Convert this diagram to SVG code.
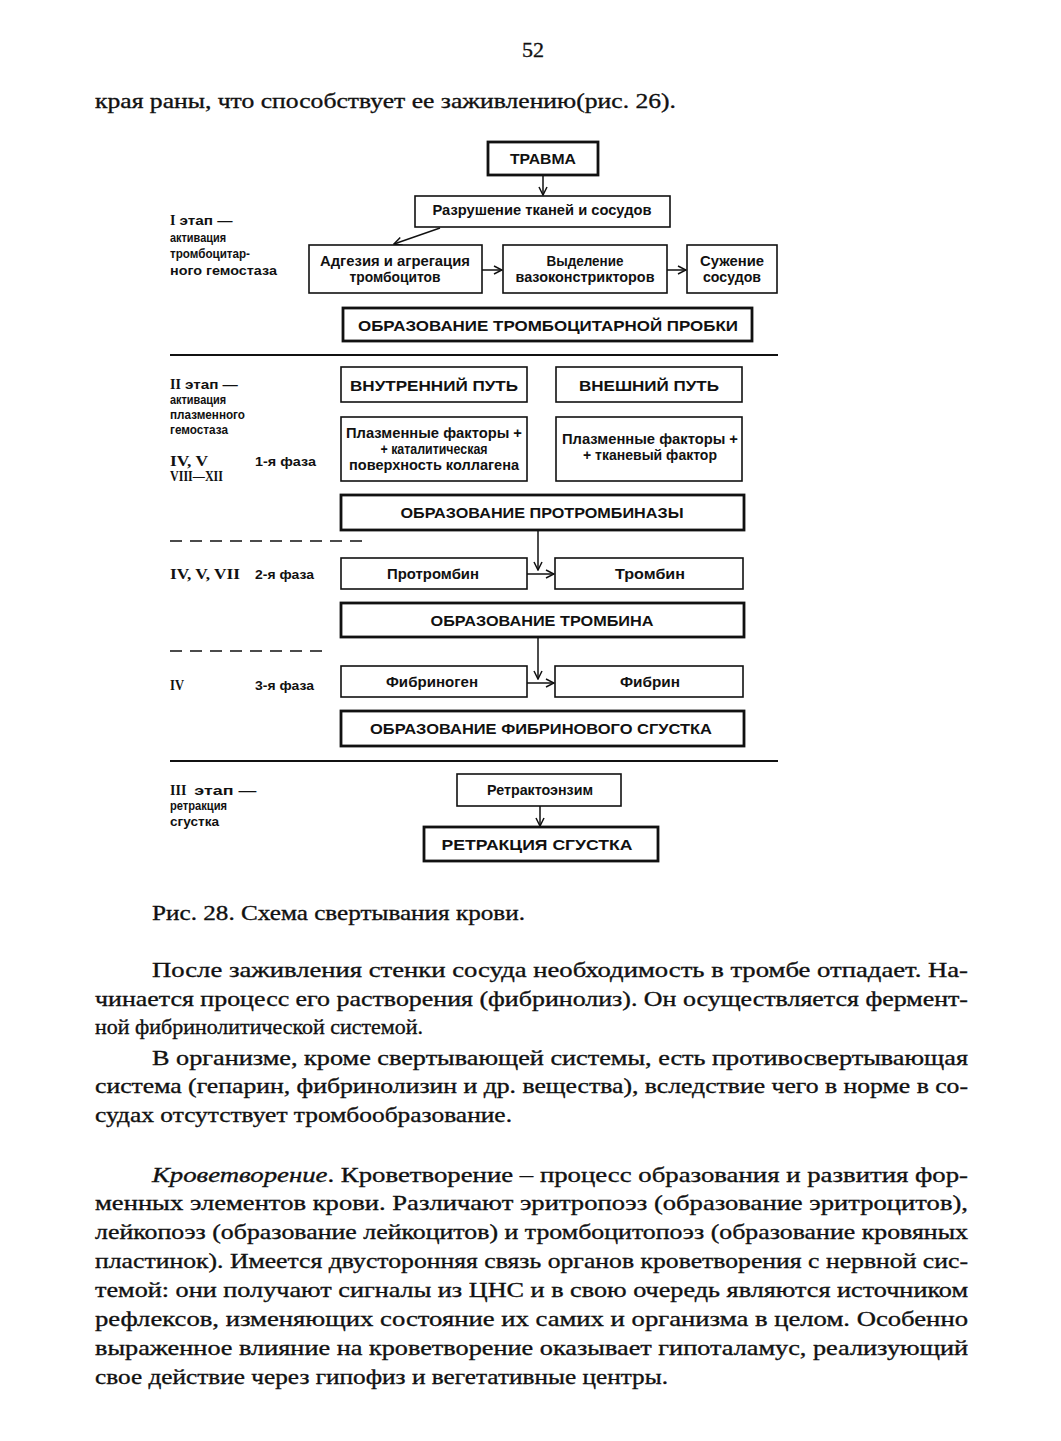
<svg xmlns="http://www.w3.org/2000/svg" width="1061" height="1441" viewBox="0 0 1061 1441">
<style>
.bg{fill:#fff}
.thin{fill:#fff;stroke:#111;stroke-width:1.6}
.thick{fill:#fff;stroke:#111;stroke-width:2.8}
.lbl{font-family:"Liberation Sans",Arial,sans-serif;font-weight:bold;fill:#111;text-anchor:middle}
.side{font-family:"Liberation Sans",Arial,sans-serif;font-weight:bold;font-size:13px;fill:#111}
.rom{font-family:"Liberation Serif","Times New Roman",serif;font-weight:bold;font-size:14px;fill:#111}
.body{font-family:"Liberation Serif","Times New Roman",serif;font-size:22px;fill:#111;stroke:#111;stroke-width:0.35}
.conn{stroke:#111;stroke-width:1.5;fill:none}
.sep{stroke:#111;stroke-width:2;fill:none}
.dash{stroke:#111;stroke-width:1.5;stroke-dasharray:12 8;fill:none}
</style>
<defs>
<marker id="ah" markerWidth="10" markerHeight="10" refX="9" refY="5" orient="auto" markerUnits="userSpaceOnUse">
<path d="M1,1 L9,5 L1,9" fill="none" stroke="#111" stroke-width="1.5"/>
</marker>
</defs>
<rect class="bg" x="0" y="0" width="1061" height="1441"/>

<text class="body" x="533" y="57" font-size="15" text-anchor="middle">52</text>
<text class="body" x="95" y="108" textLength="581" lengthAdjust="spacingAndGlyphs">края раны, что способствует ее заживлению(рис. 26).</text>

<g id="connectors">
<line class="conn" x1="543" y1="175" x2="543" y2="195" marker-end="url(#ah)"/>
<line class="conn" x1="440" y1="228" x2="394" y2="244" marker-end="url(#ah)"/>
<line class="conn" x1="482" y1="270" x2="502" y2="270" marker-end="url(#ah)"/>
<line class="conn" x1="667" y1="270" x2="686" y2="270" marker-end="url(#ah)"/>
<line class="conn" x1="538" y1="530" x2="538" y2="570" marker-end="url(#ah)"/>
<line class="conn" x1="527" y1="574" x2="554" y2="574" marker-end="url(#ah)"/>
<line class="conn" x1="538" y1="637" x2="538" y2="679" marker-end="url(#ah)"/>
<line class="conn" x1="527" y1="683" x2="554" y2="683" marker-end="url(#ah)"/>
<line class="conn" x1="540" y1="806" x2="540" y2="826" marker-end="url(#ah)"/>
<line class="sep" x1="170" y1="355" x2="778" y2="355"/>
<line class="sep" x1="170" y1="761" x2="778" y2="761"/>
<line class="dash" x1="170" y1="541" x2="362" y2="541"/>
<line class="dash" x1="170" y1="651" x2="326" y2="651"/>
</g>

<g id="stage1-label">
<text class="side" y="225"><tspan class="rom" x="170">I</tspan><tspan dx="4" textLength="53" lengthAdjust="spacingAndGlyphs">этап —</tspan></text>
<text class="side" x="170" y="242" textLength="56" lengthAdjust="spacingAndGlyphs">активация</text>
<text class="side" x="170" y="258" textLength="80" lengthAdjust="spacingAndGlyphs">тромбоцитар-</text>
<text class="side" x="170" y="275" textLength="107" lengthAdjust="spacingAndGlyphs">ного гемостаза</text>
</g>

<g id="n-travma"><rect class="thick" x="488" y="142" width="110" height="33"/>
<text class="lbl" x="543" y="164" font-size="15" textLength="66" lengthAdjust="spacingAndGlyphs">ТРАВМА</text></g>

<g id="n-razrushenie"><rect class="thin" x="415" y="196" width="255" height="31"/>
<text class="lbl" x="542" y="215" font-size="14" textLength="219" lengthAdjust="spacingAndGlyphs">Разрушение тканей и сосудов</text></g>

<g id="n-adgeziya"><rect class="thin" x="309" y="245" width="173" height="48"/>
<text class="lbl" x="395" y="266" font-size="14" textLength="150" lengthAdjust="spacingAndGlyphs">Адгезия и агрегация</text>
<text class="lbl" x="395" y="282" font-size="14" textLength="91" lengthAdjust="spacingAndGlyphs">тромбоцитов</text></g>

<g id="n-vydelenie"><rect class="thin" x="503" y="245" width="164" height="48"/>
<text class="lbl" x="585" y="266" font-size="14" textLength="77" lengthAdjust="spacingAndGlyphs">Выделение</text>
<text class="lbl" x="585" y="282" font-size="14" textLength="139" lengthAdjust="spacingAndGlyphs">вазоконстрикторов</text></g>

<g id="n-suzhenie"><rect class="thin" x="687" y="245" width="90" height="48"/>
<text class="lbl" x="732" y="266" font-size="14" textLength="64" lengthAdjust="spacingAndGlyphs">Сужение</text>
<text class="lbl" x="732" y="282" font-size="14" textLength="58" lengthAdjust="spacingAndGlyphs">сосудов</text></g>

<g id="n-probka"><rect class="thick" x="343" y="308" width="409" height="33"/>
<text class="lbl" x="548" y="331" font-size="15" textLength="380" lengthAdjust="spacingAndGlyphs">ОБРАЗОВАНИЕ ТРОМБОЦИТАРНОЙ ПРОБКИ</text></g>

<g id="stage2-label">
<text class="side" y="389"><tspan class="rom" x="170">II</tspan><tspan dx="4" textLength="53" lengthAdjust="spacingAndGlyphs">этап —</tspan></text>
<text class="side" x="170" y="404" textLength="56" lengthAdjust="spacingAndGlyphs">активация</text>
<text class="side" x="170" y="419" textLength="75" lengthAdjust="spacingAndGlyphs">плазменного</text>
<text class="side" x="170" y="434" textLength="58" lengthAdjust="spacingAndGlyphs">гемостаза</text>
<text class="rom" x="170" y="466" textLength="38" lengthAdjust="spacingAndGlyphs">IV, V</text>
<text class="side" x="255" y="466" textLength="61" lengthAdjust="spacingAndGlyphs">1-я фаза</text>
<text class="rom" x="170" y="481" textLength="53" lengthAdjust="spacingAndGlyphs">VIII—XII</text>
<text class="rom" x="170" y="579" textLength="70" lengthAdjust="spacingAndGlyphs">IV, V, VII</text>
<text class="side" x="255" y="579" textLength="59" lengthAdjust="spacingAndGlyphs">2-я фаза</text>
<text class="rom" x="170" y="690" textLength="14" lengthAdjust="spacingAndGlyphs">IV</text>
<text class="side" x="255" y="690" textLength="59" lengthAdjust="spacingAndGlyphs">3-я фаза</text>
</g>

<g id="n-vnutr"><rect class="thin" x="341" y="367" width="186" height="35"/>
<text class="lbl" x="434" y="391" font-size="15" textLength="168" lengthAdjust="spacingAndGlyphs">ВНУТРЕННИЙ ПУТЬ</text></g>

<g id="n-vnesh"><rect class="thin" x="556" y="367" width="186" height="35"/>
<text class="lbl" x="649" y="391" font-size="15" textLength="140" lengthAdjust="spacingAndGlyphs">ВНЕШНИЙ ПУТЬ</text></g>

<g id="n-plazm1"><rect class="thin" x="341" y="417" width="186" height="64"/>
<text class="lbl" x="434" y="438" font-size="14" textLength="176" lengthAdjust="spacingAndGlyphs">Плазменные факторы +</text>
<text class="lbl" x="434" y="454" font-size="14" textLength="107" lengthAdjust="spacingAndGlyphs">+ каталитическая</text>
<text class="lbl" x="434" y="470" font-size="14" textLength="170" lengthAdjust="spacingAndGlyphs">поверхность коллагена</text></g>

<g id="n-plazm2"><rect class="thin" x="556" y="417" width="186" height="64"/>
<text class="lbl" x="650" y="444" font-size="14" textLength="176" lengthAdjust="spacingAndGlyphs">Плазменные факторы +</text>
<text class="lbl" x="650" y="460" font-size="14" textLength="134" lengthAdjust="spacingAndGlyphs">+ тканевый фактор</text></g>

<g id="n-protrombinaza"><rect class="thick" x="341" y="495" width="403" height="35"/>
<text class="lbl" x="542" y="518" font-size="14" textLength="283" lengthAdjust="spacingAndGlyphs">ОБРАЗОВАНИЕ ПРОТРОМБИНАЗЫ</text></g>

<g id="n-protrombin"><rect class="thin" x="341" y="558" width="186" height="31"/>
<text class="lbl" x="433" y="579" font-size="14" textLength="92" lengthAdjust="spacingAndGlyphs">Протромбин</text></g>

<g id="n-trombin"><rect class="thin" x="555" y="558" width="188" height="31"/>
<text class="lbl" x="650" y="579" font-size="14" textLength="70" lengthAdjust="spacingAndGlyphs">Тромбин</text></g>

<g id="n-obr-trombina"><rect class="thick" x="341" y="603" width="403" height="34"/>
<text class="lbl" x="542" y="626" font-size="14" textLength="223" lengthAdjust="spacingAndGlyphs">ОБРАЗОВАНИЕ ТРОМБИНА</text></g>

<g id="n-fibrinogen"><rect class="thin" x="341" y="666" width="186" height="31"/>
<text class="lbl" x="432" y="687" font-size="14" textLength="92" lengthAdjust="spacingAndGlyphs">Фибриноген</text></g>

<g id="n-fibrin"><rect class="thin" x="555" y="666" width="188" height="31"/>
<text class="lbl" x="650" y="687" font-size="14" textLength="60" lengthAdjust="spacingAndGlyphs">Фибрин</text></g>

<g id="n-sgustok"><rect class="thick" x="341" y="711" width="403" height="35"/>
<text class="lbl" x="541" y="734" font-size="14" textLength="342" lengthAdjust="spacingAndGlyphs">ОБРАЗОВАНИЕ ФИБРИНОВОГО СГУСТКА</text></g>

<g id="stage3-label">
<text class="side" y="795"><tspan class="rom" x="170">III</tspan><tspan dx="8" textLength="62" lengthAdjust="spacingAndGlyphs">этап —</tspan></text>
<text class="side" x="170" y="810" textLength="57" lengthAdjust="spacingAndGlyphs">ретракция</text>
<text class="side" x="170" y="826" textLength="49" lengthAdjust="spacingAndGlyphs">сгустка</text>
</g>

<g id="n-retraktoenzim"><rect class="thin" x="457" y="774" width="164" height="32"/>
<text class="lbl" x="540" y="795" font-size="14" textLength="106" lengthAdjust="spacingAndGlyphs">Ретрактоэнзим</text></g>

<g id="n-retrakciya"><rect class="thick" x="424" y="827" width="234" height="34"/>
<text class="lbl" x="537" y="850" font-size="15" textLength="191" lengthAdjust="spacingAndGlyphs">РЕТРАКЦИЯ СГУСТКА</text></g>

<text class="body" x="152" y="920" textLength="373" lengthAdjust="spacingAndGlyphs">Рис. 28. Схема свертывания крови.</text>

<text class="body" x="152" y="977" textLength="816" lengthAdjust="spacingAndGlyphs">После заживления стенки сосуда необходимость в тромбе отпадает. На-</text>
<text class="body" x="95" y="1006" textLength="873" lengthAdjust="spacingAndGlyphs">чинается процесс его растворения (фибринолиз). Он осуществляется фермент-</text>
<text class="body" x="95" y="1034" textLength="328" lengthAdjust="spacingAndGlyphs">ной фибринолитической системой.</text>
<text class="body" x="152" y="1065" textLength="816" lengthAdjust="spacingAndGlyphs">В организме, кроме свертывающей системы, есть противосвертывающая</text>
<text class="body" x="95" y="1093" textLength="873" lengthAdjust="spacingAndGlyphs">система (гепарин, фибринолизин и др. вещества), вследствие чего в норме в со-</text>
<text class="body" x="95" y="1122" textLength="417" lengthAdjust="spacingAndGlyphs">судах отсутствует тромбообразование.</text>

<text class="body" x="152" y="1182" textLength="816" lengthAdjust="spacingAndGlyphs"><tspan font-style="italic">Кроветворение</tspan>. Кроветворение – процесс образования и развития фор-</text>
<text class="body" x="95" y="1210" textLength="873" lengthAdjust="spacingAndGlyphs">менных элементов крови. Различают эритропоэз (образование эритроцитов),</text>
<text class="body" x="95" y="1239" textLength="873" lengthAdjust="spacingAndGlyphs">лейкопоэз (образование лейкоцитов) и тромбоцитопоэз (образование кровяных</text>
<text class="body" x="95" y="1268" textLength="873" lengthAdjust="spacingAndGlyphs">пластинок). Имеется двусторонняя связь органов кроветворения с нервной сис-</text>
<text class="body" x="95" y="1297" textLength="873" lengthAdjust="spacingAndGlyphs">темой: они получают сигналы из ЦНС и в свою очередь являются источником</text>
<text class="body" x="95" y="1326" textLength="873" lengthAdjust="spacingAndGlyphs">рефлексов, изменяющих состояние их самих и организма в целом. Особенно</text>
<text class="body" x="95" y="1355" textLength="873" lengthAdjust="spacingAndGlyphs">выраженное влияние на кроветворение оказывает гипоталамус, реализующий</text>
<text class="body" x="95" y="1384" textLength="573" lengthAdjust="spacingAndGlyphs">свое действие через гипофиз и вегетативные центры.</text>
</svg>
